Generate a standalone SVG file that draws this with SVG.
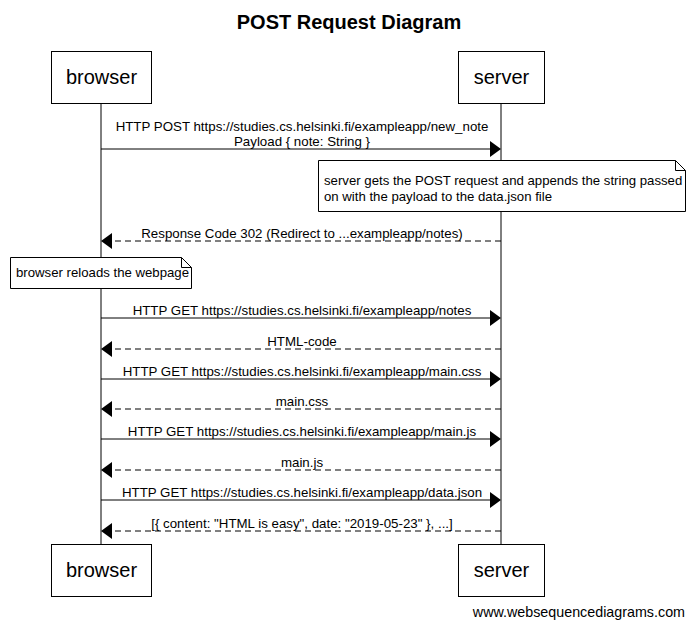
<svg xmlns="http://www.w3.org/2000/svg" width="694" height="627" viewBox="0 0 694 627">
<defs>
<style>
text{font-family:"Liberation Sans",Arial,sans-serif;fill:#000}
.t{font-size:20px;font-weight:bold;text-anchor:middle}
.p{font-size:20px;text-anchor:middle}
.m{font-size:13.3px;text-anchor:middle}
.n{font-size:13.2px}
.f{font-size:14.3px;text-anchor:end}
.box{fill:#fff;stroke:#000;stroke-width:1}
.life{stroke:#000;stroke-width:1}
.sol{stroke:#000;stroke-width:1;fill:none}
.dash{stroke:#000;stroke-width:1;fill:none;stroke-dasharray:6,4}
.ah{fill:#000}
</style>
</defs>
<rect width="694" height="627" fill="#fff"/>
<text class="t" x="349" y="29">POST Request Diagram</text>
<g id="connectors">
<line class="life" x1="101" y1="104" x2="101" y2="544"/>
<line class="life" x1="501" y1="104" x2="501" y2="544"/>
<line class="sol" x1="101" y1="149" x2="491" y2="149"/>
<path class="ah" d="M501,149 L490,141 L490,157 Z"/>
<text class="m" x="302" y="131">HTTP POST https://studies.cs.helsinki.fi/exampleapp/new_note</text>
<text class="m" x="302" y="146">Payload { note: String }</text>
<line class="dash" x1="501" y1="241" x2="111" y2="241"/>
<path class="ah" d="M101,241 L112,233 L112,249 Z"/>
<text class="m" x="302" y="238">Response Code 302 (Redirect to ...exampleapp/notes)</text>
<line class="sol" x1="101" y1="318" x2="491" y2="318"/>
<path class="ah" d="M501,318 L490,310 L490,326 Z"/>
<text class="m" x="302" y="315">HTTP GET https://studies.cs.helsinki.fi/exampleapp/notes</text>
<line class="dash" x1="501" y1="349" x2="111" y2="349"/>
<path class="ah" d="M101,349 L112,341 L112,357 Z"/>
<text class="m" x="302" y="346">HTML-code</text>
<line class="sol" x1="101" y1="379" x2="491" y2="379"/>
<path class="ah" d="M501,379 L490,371 L490,387 Z"/>
<text class="m" x="302" y="376">HTTP GET https://studies.cs.helsinki.fi/exampleapp/main.css</text>
<line class="dash" x1="501" y1="409" x2="111" y2="409"/>
<path class="ah" d="M101,409 L112,401 L112,417 Z"/>
<text class="m" x="302" y="406">main.css</text>
<line class="sol" x1="101" y1="439" x2="491" y2="439"/>
<path class="ah" d="M501,439 L490,431 L490,447 Z"/>
<text class="m" x="302" y="436">HTTP GET https://studies.cs.helsinki.fi/exampleapp/main.js</text>
<line class="dash" x1="501" y1="470" x2="111" y2="470"/>
<path class="ah" d="M101,470 L112,462 L112,478 Z"/>
<text class="m" x="302" y="467">main.js</text>
<line class="sol" x1="101" y1="500" x2="491" y2="500"/>
<path class="ah" d="M501,500 L490,492 L490,508 Z"/>
<text class="m" x="302" y="497">HTTP GET https://studies.cs.helsinki.fi/exampleapp/data.json</text>
<line class="dash" x1="501" y1="531" x2="111" y2="531"/>
<path class="ah" d="M101,531 L112,523 L112,539 Z"/>
<text class="m" x="302" y="528">[{ content: "HTML is easy", date: "2019-05-23" }, ...]</text>
</g>
<g id="browser-top">
<rect class="box" x="51.5" y="51.5" width="100" height="52"/>
<text class="p" x="101.5" y="84">browser</text>
</g>
<g id="server-top">
<rect class="box" x="458.5" y="51.5" width="86" height="52"/>
<text class="p" x="501.5" y="84">server</text>
</g>
<g id="browser-bottom">
<rect class="box" x="51.5" y="544.5" width="100" height="52"/>
<text class="p" x="101.5" y="577">browser</text>
</g>
<g id="server-bottom">
<rect class="box" x="458.5" y="544.5" width="86" height="52"/>
<text class="p" x="501.5" y="577">server</text>
</g>
<g id="note-server">
<path class="box" d="M318.5,160.5 H675.5 L685.5,170.5 V211.5 H318.5 Z"/>
<path class="sol" d="M675.5,160.5 V170.5 H685.5"/>
<text class="n" x="324" y="185">server gets the POST request and appends the string passed</text>
<text class="n" x="324" y="201">on with the payload to the data.json file</text>
</g>
<g id="note-browser">
<path class="box" d="M10.5,257.5 H181.5 L191.5,267.5 V288.5 H10.5 Z"/>
<path class="sol" d="M181.5,257.5 V267.5 H191.5"/>
<text class="n" x="16" y="277">browser reloads the webpage</text>
</g>
<text class="f" x="685" y="617">www.websequencediagrams.com</text>
</svg>
